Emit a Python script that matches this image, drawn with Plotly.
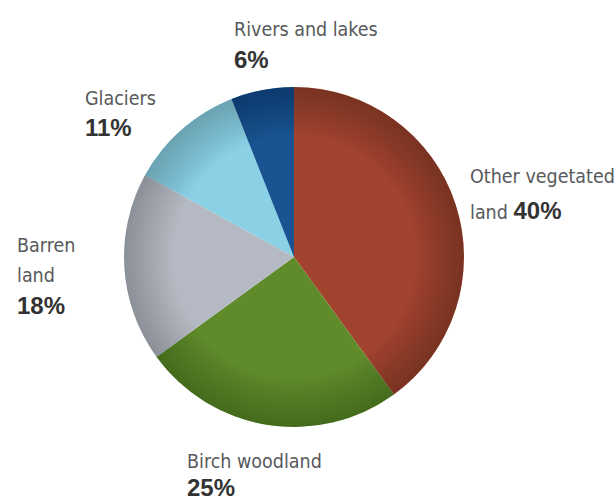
import plotly.graph_objects as go

# Land cover shares, clockwise from 12 o'clock
categories = ["Other vegetated land", "Birch woodland", "Barren land", "Glaciers", "Rivers and lakes"]
shares = [40, 25, 18, 11, 6]
colors = ["#a1432f", "#5f8b2a", "#b4b9c3", "#8ad1e6", "#195391"]

# Name lines for each slice label, the pixel spot of each label block
# and the spacing between its lines
label_lines = {
    "Rivers and lakes": ["Rivers and lakes"],
    "Glaciers": ["Glaciers"],
    "Other vegetated land": ["Other vegetated"],
    "Barren land": ["Barren", "land"],
    "Birch woodland": ["Birch woodland"],
}
label_pos = {
    "Rivers and lakes": (232, 30),
    "Glaciers": (83, 98),
    "Other vegetated land": (468, 177),
    "Barren land": (15, 245),
    "Birch woodland": (185, 461),
}
label_gap = {
    "Rivers and lakes": 30,
    "Glaciers": 30,
    "Other vegetated land": 33,
    "Barren land": 30,
    "Birch woodland": 26,
}

W, H = 614, 503
cx, cy, r = 294, 257, 170
dom = dict(x=[(cx - r) / W, (cx + r) / W], y=[1 - (cy + r) / H, 1 - (cy - r) / H])

fig = go.Figure()
fig.add_trace(go.Pie(
    labels=categories,
    values=shares,
    marker=dict(colors=colors, line=dict(width=0)),
    sort=False,
    direction="clockwise",
    rotation=0,
    textinfo="none",
    hoverinfo="label+percent",
    showlegend=False,
    domain=dom,
))

# soft darkening toward the rim of the disc, built from thin translucent rings
n_rings = 14
for k in range(n_rings):
    hole = 0.72 + 0.27 * k / (n_rings - 1)
    fig.add_trace(go.Pie(
        values=[1],
        hole=hole,
        marker=dict(colors=["rgba(25,10,10,0.016)"], line=dict(width=0)),
        textinfo="none",
        hoverinfo="skip",
        showlegend=False,
        sort=False,
        domain=dom,
    ))

name_font = dict(family="DejaVu Sans Condensed, DejaVu Sans", size=19.5, color="#58595b")
pct_size = 24
pct_font = dict(family="Liberation Sans, Arial", size=pct_size, color="#333333")


def cond(s):
    return f"<span style='font-stretch:condensed'>{s}</span>"


for cat, val in zip(categories, shares):
    x0, y0 = label_pos[cat]
    lines = label_lines[cat]
    gap = label_gap[cat]
    pct = f"<b>{val}%</b>"
    if cat == "Other vegetated land":
        # the percentage shares the second line with the word "land"
        fig.add_annotation(x=x0 / W, y=1 - y0 / H, xref="paper", yref="paper",
                           text=cond(lines[0]), showarrow=False, xanchor="left", yanchor="middle",
                           font=name_font)
        fig.add_annotation(x=x0 / W, y=1 - (y0 + gap) / H, xref="paper", yref="paper",
                           text=(cond("land ") + "<span style='font-family:Liberation Sans, Arial;"
                                 f"color:#333333;font-size:{pct_size}px'>{pct}</span>"),
                           showarrow=False, xanchor="left", yanchor="middle", font=name_font)
        continue
    for i, ln in enumerate(lines):
        fig.add_annotation(x=x0 / W, y=1 - (y0 + i * gap) / H, xref="paper", yref="paper",
                           text=cond(ln), showarrow=False, xanchor="left", yanchor="middle",
                           font=name_font)
    fig.add_annotation(x=x0 / W, y=1 - (y0 + len(lines) * gap) / H, xref="paper", yref="paper",
                       text=pct, showarrow=False, xanchor="left", yanchor="middle",
                       font=pct_font)

fig.update_layout(
    width=W, height=H,
    margin=dict(l=0, r=0, t=0, b=0),
    paper_bgcolor="white",
    plot_bgcolor="white",
)

fig.write_html("out.html")
